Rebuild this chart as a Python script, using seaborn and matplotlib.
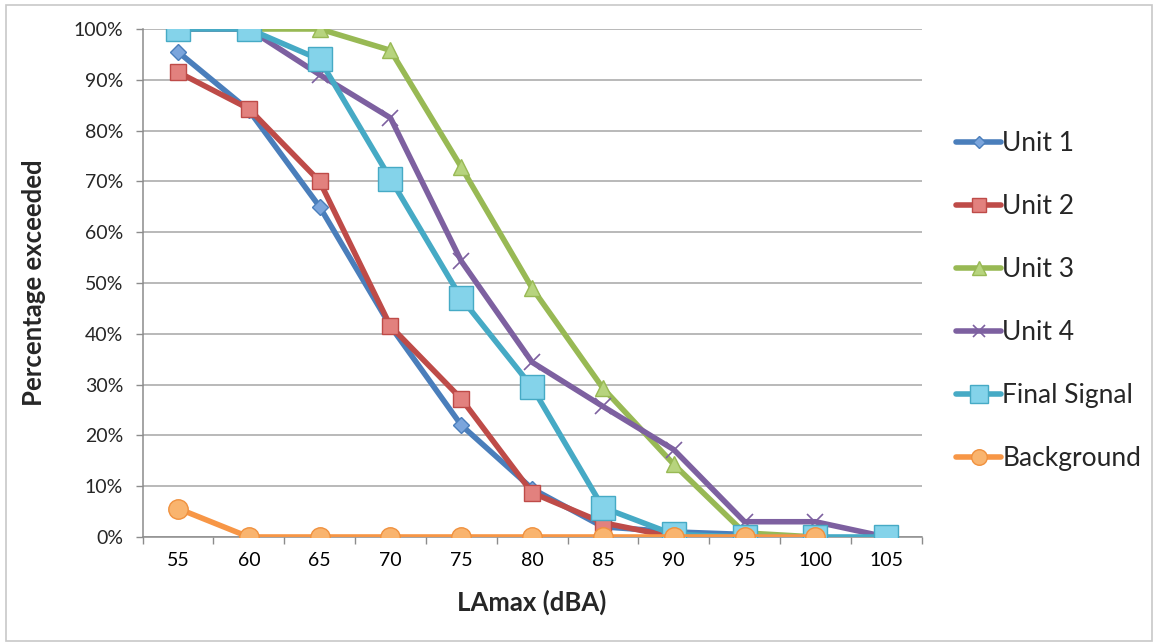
import numpy as np
import pandas as pd
import matplotlib
matplotlib.use("Agg")
import matplotlib.pyplot as plt
import seaborn as sns
from matplotlib.lines import Line2D

categories = ["55", "60", "65", "70", "75", "80", "85", "90", "95", "100", "105"]
unit1 = [0.955, 0.84, 0.65, 0.415, 0.22, 0.095, 0.02, 0.01, 0.005, None, None]
unit2 = [0.915, 0.843, 0.70, 0.415, 0.272, 0.087, 0.028, 0.0, None, None, None]
unit3 = [1.0, 1.0, 1.0, 0.958, 0.728, 0.49, 0.293, 0.143, 0.008, 0.0, None]
unit4 = [1.0, 1.0, 0.91, 0.825, 0.543, 0.344, 0.257, 0.172, 0.03, 0.03, 0.0]
final_signal = [1.0, 1.0, 0.94, 0.705, 0.47, 0.295, 0.058, 0.005, 0.0, 0.0, 0.0]
background = [0.056, 0.0, 0.0, 0.0, 0.0, 0.0, 0.0, 0.0, 0.0, 0.0, None]
series_names = ["Unit 1", "Unit 2", "Unit 3", "Unit 4", "Final Signal", "Background"]
y_ticks = [0, 0.1, 0.2, 0.3, 0.4, 0.5, 0.6, 0.7, 0.8, 0.9, 1.0]

series_values = [unit1, unit2, unit3, unit4, final_signal, background]
styles = [
    dict(color="#4A7EBB", marker="D", ms=8, mfc="#7BA5DC", mec="#4A7EBB", mew=1.0),
    dict(color="#BE4B48", marker="s", ms=12, mfc="#E2817E", mec="#BE4B48", mew=1.0),
    dict(color="#98B954", marker="^", ms=12, mfc="#B7D47E", mec="#98B954", mew=1.0),
    dict(color="#7D60A0", marker="x", ms=11, mfc="#7D60A0", mec="#7D60A0", mew=1.2),
    dict(color="#46AAC5", marker="s", ms=17, mfc="#84D3EA", mec="#46AAC5", mew=1.0),
    dict(color="#F79646", marker="o", ms=14, mfc="#F9B46E", mec="#F0913E", mew=1.0),
]

sns.set_theme(style="white")
plt.rcParams["font.family"] = ["Lato", "DejaVu Sans"]

fig = plt.figure(figsize=(11.54, 6.43), dpi=100)
ax = fig.add_axes([0.1236, 0.1649, 0.675, 0.79])

pos = np.arange(len(categories))
handles = []
for name, vals, st in zip(series_names, series_values, styles):
    df = pd.DataFrame({"x": pos, "y": [np.nan if v is None else v for v in vals]}).dropna()
    sns.lineplot(data=df, x="x", y="y", ax=ax, color=st["color"], linewidth=4.0,
                 marker=st["marker"], markersize=st["ms"], markerfacecolor=st["mfc"],
                 markeredgecolor=st["mec"], markeredgewidth=st["mew"], zorder=3,
                 solid_capstyle="round", solid_joinstyle="round")
    handles.append(Line2D([0], [0], color=st["color"], lw=4.0, marker=st["marker"],
                          markersize=st["ms"] * 0.8, markerfacecolor=st["mfc"],
                          markeredgecolor=st["mec"], markeredgewidth=st["mew"],
                          solid_capstyle="round"))

ax.set_xlim(-0.5, len(categories) - 0.5)
ax.set_ylim(0, 1.0)
ax.set_xticks(pos)
ax.set_xticklabels(categories, fontsize=14)
ax.set_xticks(np.arange(-0.5, len(categories), 1.0), minor=True)
ax.set_yticks(y_ticks)
ax.set_yticklabels([f"{int(round(t*100))}%" for t in y_ticks], fontsize=14)
ax.tick_params(axis="x", which="major", length=0, pad=11, colors="#000000")
ax.tick_params(axis="x", which="minor", length=5, width=1, color="#8C8C8C", direction="out", bottom=True)
ax.tick_params(axis="y", which="major", length=5, width=1, color="#8C8C8C", direction="out", left=True, pad=9)
ax.grid(axis="y", color="#A6A6A6", linewidth=1.1)
ax.set_axisbelow(True)
for s in ["top", "right"]:
    ax.spines[s].set_visible(False)
for s in ["left", "bottom"]:
    ax.spines[s].set_color("#8C8C8C")
    ax.spines[s].set_linewidth(1.1)

ax.set_xlabel("LAmax (dBA)", fontsize=18.5, fontweight="bold", labelpad=15)
ax.set_ylabel("Percentage exceeded", fontsize=18.5, fontweight="bold", labelpad=20)

leg = fig.legend(handles, series_names, loc="center left", bbox_to_anchor=(0.808, 0.532),
                 frameon=False, fontsize=19, handlelength=1.7, handletextpad=0.05,
                 labelspacing=1.44)

# outer border
fig.patches.append(plt.Rectangle((0.005, 0.003), 0.993, 0.99, transform=fig.transFigure,
                                 fill=False, edgecolor="#C8C8C8", linewidth=1.2))

fig.savefig("out.png", dpi=100)
